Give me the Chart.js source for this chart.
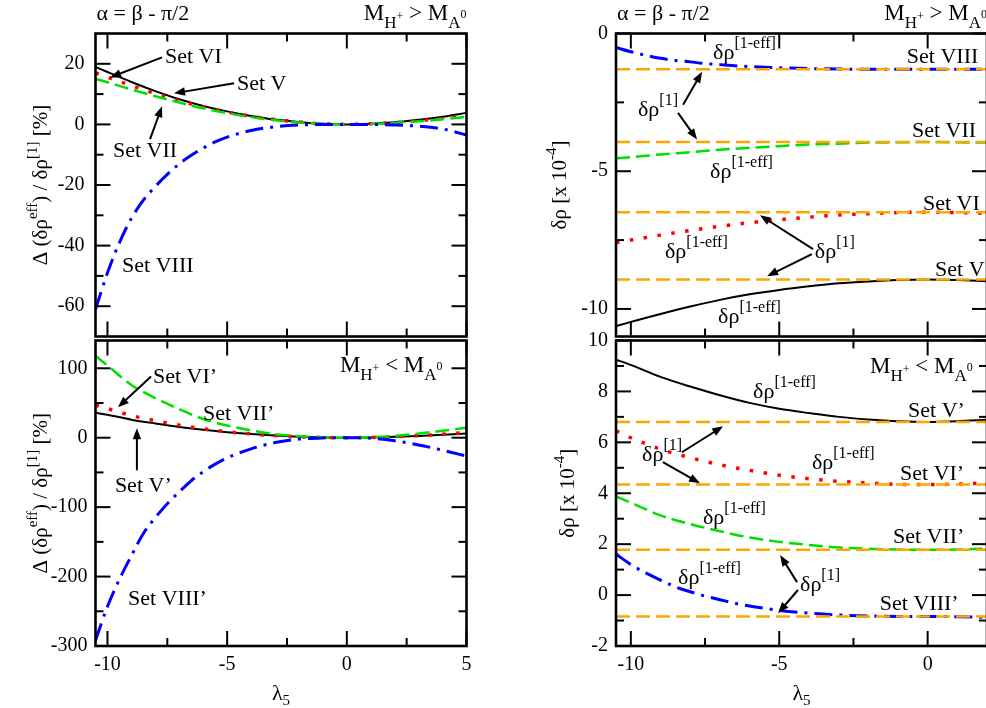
<!DOCTYPE html>
<html>
<head>
<meta charset="utf-8">
<script src="https://cdn.jsdelivr.net/npm/chart.js@4.4.1/dist/chart.umd.min.js"></script>
<style>
  html, body { margin: 0; padding: 0; background: #fff; overflow: hidden; }
  #wrap { position: relative; width: 986px; height: 708px; overflow: hidden; background: #fff; }
  #wrap canvas { position: absolute; left: 0; top: 0; }
</style>
</head>
<body>
<div id="wrap">
  <canvas id="pTL" width="1010" height="708"></canvas>
  <canvas id="pBL" width="1010" height="708"></canvas>
  <canvas id="pTR" width="1010" height="708"></canvas>
  <canvas id="pBR" width="1010" height="708"></canvas>
</div>
<script>
// ---------- lambda_5 grids ----------
const lamA = [-10.5, -10, -9, -8, -7, -6, -5, -4, -3, -2, -1, 0, 1, 2, 3, 4, 5];
const lamB = [-10.5, -10, -9.5, -9, -8.5, -8, -7.5, -7, -6.5, -6, -5.5, -5, -4, -3, -2, -1, 0, 1, 2, 3, 4, 5];
const lamC = [-10.5, -10, -9, -8, -7, -6, -5, -4, -3, -2, -1, 0, 1, 2];
const lamD = [-10.5, -10, -9.5, -9, -8.5, -8, -7.5, -7, -6.5, -6, -5.5, -5, -4, -3, -2, -1, 0, 1, 2];

// ---------- relative deviation [%], M_H+ > M_A0 ----------
const devV    = [19.0, 17.3, 14.0, 11.0, 8.3, 6.1, 4.3, 2.8, 1.6, 0.8, 0.2, 0, 0.2, 0.7, 1.5, 2.5, 3.8];
const devVI   = [17.0, 15.6, 12.8, 10.2, 7.8, 5.8, 4.1, 2.7, 1.6, 0.8, 0.2, 0, 0.2, 0.6, 1.2, 2.0, 3.0];
const devVII  = [15.0, 13.9, 11.5, 9.3, 7.2, 5.3, 3.7, 2.4, 1.4, 0.6, 0.15, 0, 0.15, 0.5, 1.0, 1.7, 2.5];
const devVIII = [-61, -49, -39, -31, -25, -20.5, -16.5, -13, -10.2, -7.8, -5.8, -4.2, -2.0, -0.8, -0.2, 0, 0, 0, -0.2, -0.6, -1.5, -3.5];

// ---------- relative deviation [%], M_H+ < M_A0 ----------
const devVp    = [36, 33, 26, 20.5, 15.5, 11.3, 8, 5.2, 3, 1.4, 0.4, 0, 0.4, 1.3, 2.6, 4.2, 6];
const devVIp   = [47, 42, 32, 24.5, 18, 12.8, 8.6, 5.4, 3.0, 1.3, 0.3, 0, 0.4, 1.5, 3, 5, 7.5];
const devVIIp  = [118, 104, 76, 57, 41, 27, 17.5, 10.5, 5, 2.2, 0.5, 0, 0.7, 2.8, 6, 10, 14.5];
const devVIIIp = [-292, -243, -204, -170, -138, -115, -95, -78, -62, -49, -38, -29, -16, -7, -2, -0.3, 0, -0.7, -4.5, -10.5, -18, -26.5];

// ---------- delta rho [x 1e-4], M_H+ > M_A0 ----------
const rho1Top = [-8.93, -6.49, -3.94, -1.30];           // Set V, VI, VII, VIII
const effV    = [-10.63, -10.47, -10.18, -9.91, -9.67, -9.47, -9.31, -9.18, -9.07, -9.00, -8.95, -8.93, -8.95, -8.99];
const effVI   = [-7.59, -7.50, -7.32, -7.15, -7.00, -6.87, -6.76, -6.67, -6.59, -6.54, -6.50, -6.49, -6.50, -6.53];
const effVII  = [-4.53, -4.49, -4.39, -4.31, -4.22, -4.15, -4.09, -4.03, -4.00, -3.96, -3.95, -3.94, -3.95, -3.96];
const effVIII = [-0.51, -0.66, -0.79, -0.90, -0.98, -1.03, -1.09, -1.13, -1.17, -1.20, -1.225, -1.245, -1.274, -1.29, -1.297, -1.30, -1.30, -1.30, -1.297];

// ---------- delta rho [x 1e-4], M_H+ < M_A0 ----------
const rho1Bot  = [6.80, 4.34, 1.78, -0.84];             // Set V', VI', VII', VIII'
const effVp    = [9.25, 9.04, 8.57, 8.19, 7.85, 7.55, 7.32, 7.15, 7.00, 6.90, 6.83, 6.80, 6.83, 6.89];
const effVIp   = [6.45, 6.18, 5.73, 5.40, 5.12, 4.90, 4.71, 4.57, 4.47, 4.40, 4.35, 4.34, 4.36, 4.41];
const effVIIp  = [3.88, 3.63, 3.13, 2.79, 2.51, 2.26, 2.09, 1.97, 1.87, 1.82, 1.79, 1.78, 1.79, 1.83];
const effVIIIp = [1.61, 1.20, 0.87, 0.59, 0.32, 0.13, -0.04, -0.18, -0.32, -0.43, -0.52, -0.60, -0.71, -0.78, -0.82, -0.84, -0.84, -0.85, -0.88];

// ---------- axis ranges and ticks ----------
const xRangeLeft  = [-10.5, 5];
const xRangeRight = [-10.5, 2];
const xMajorLeft  = [-10, -5, 0, 5];
const xMinorLeft  = [-7.5, -2.5, 2.5];
const xMajorRight = [-10, -5, 0];
const xMinorRight = [-7.5, -2.5];

const yRangeTL = [-70, 30],  yMajorTL = [20, 0, -20, -40, -60],            yMinorTL = [10, -10, -30, -50];
const yRangeBL = [-300, 140], yMajorBL = [100, 0, -100, -200, -300],       yMinorBL = [50, -50, -150, -250];
const yRangeTR = [-11, 0],   yMajorTR = [0, -5, -10],                      yMinorTR = [-2.5, -7.5];
const yRangeBR = [-2, 10],   yMajorBR = [10, 8, 6, 4, 2, 0, -2],          yMinorBR = [9, 7, 5, 3, 1, -1];

// ---------- drawing helpers ----------
const FONT = '"Liberation Serif", "Times New Roman", serif';
const COL = { V: '#000000', VI: '#ff0000', VII: '#00e000', VIII: '#0000ff', ref: '#ffa500' };

function rich(ctx, segs, x, y, align) {
  let w = 0;
  for (const s of segs) { ctx.font = s[1] + 'px ' + FONT; w += ctx.measureText(s[0]).width; }
  let cx = align === 'right' ? x - w : align === 'center' ? x - w / 2 : x;
  ctx.textAlign = 'left';
  ctx.textBaseline = 'alphabetic';
  for (const s of segs) {
    ctx.font = s[1] + 'px ' + FONT;
    ctx.fillText(s[0], cx, y + (s[2] || 0));
    cx += ctx.measureText(s[0]).width;
  }
}

function arrow(ctx, x1, y1, x2, y2) {
  const ang = Math.atan2(y2 - y1, x2 - x1), L = 11, W = 4.2;
  ctx.lineWidth = 2;
  ctx.beginPath();
  ctx.moveTo(x1, y1);
  ctx.lineTo(x2 - Math.cos(ang) * L * 0.8, y2 - Math.sin(ang) * L * 0.8);
  ctx.stroke();
  ctx.beginPath();
  ctx.moveTo(x2, y2);
  ctx.lineTo(x2 - L * Math.cos(ang) + W * Math.sin(ang), y2 - L * Math.sin(ang) - W * Math.cos(ang));
  ctx.lineTo(x2 - L * Math.cos(ang) - W * Math.sin(ang), y2 - L * Math.sin(ang) + W * Math.cos(ang));
  ctx.closePath();
  ctx.fill();
}

const setTxt = t => [[t, 22, 0]];
const EFF = [['δρ', 22, 0], ['[1-eff]', 16, -11]];
const ONE = [['δρ', 22, 0], ['[1]', 16, -11]];
const TITLE = [['α = β - π/2', 22, 0]];
const M_GT = [['M', 23, 0], ['H', 17, 8], ['+', 12, 0], [' > ', 23, 0], ['M', 23, 0], ['A', 17, 8], ['0', 12, -2]];
const M_LT = [['M', 23, 0], ['H', 17, 8], ['+', 12, 0], [' < ', 23, 0], ['M', 23, 0], ['A', 17, 8], ['0', 12, -2]];
const Y_DEV = [['Δ (δρ', 21, 0], ['eff', 15, -10], [') / δρ', 21, 0], ['[1]', 15, -10], [' [%]', 21, 0]];
const Y_RHO = [['δρ [x 10', 21, 0], ['-4', 15, -10], [']', 21, 0]];
const X_LAM = [['λ', 22, 0], ['5', 15, 5]];

// frame with inward ticks on all four sides, captions and arrows
function decor(spec) {
  return {
    id: 'decor',
    afterDraw(chart) {
      const { ctx, chartArea: a } = chart;
      const sx = chart.scales.x, sy = chart.scales.y;
      ctx.save();
      ctx.strokeStyle = '#000';
      ctx.fillStyle = '#000';
      ctx.lineCap = 'butt';
      const seg = (x1, y1, x2, y2) => { ctx.beginPath(); ctx.moveTo(x1, y1); ctx.lineTo(x2, y2); ctx.stroke(); };
      ctx.lineWidth = 2;
      [[spec.xMajor, 15], [spec.xMinor, 8]].forEach(([vals, len]) => vals.forEach(v => {
        const p = sx.getPixelForValue(v);
        seg(p, a.bottom, p, a.bottom - len);
        seg(p, a.top, p, a.top + len);
      }));
      [[spec.yMajor, 15], [spec.yMinor, 8]].forEach(([vals, len]) => vals.forEach(v => {
        const p = sy.getPixelForValue(v);
        seg(a.left, p, a.left + len, p);
        seg(a.right, p, a.right - len, p);
      }));
      ctx.lineWidth = 2.6;
      ctx.strokeRect(a.left, a.top, a.right - a.left, a.bottom - a.top);

      for (const t of spec.texts) rich(ctx, t[0], sx.getPixelForValue(t[1]), sy.getPixelForValue(t[2]), 'left');
      for (const r of spec.arrows) arrow(ctx, sx.getPixelForValue(r[0]), sy.getPixelForValue(r[1]), sx.getPixelForValue(r[2]), sy.getPixelForValue(r[3]));

      if (spec.title) rich(ctx, TITLE, a.left + 1, a.top - 13.5, 'left');
      if (spec.corner) rich(ctx, spec.corner, a.right, a.top - 13.5, 'right');

      ctx.save();
      ctx.translate(a.left - spec.yTitleGap, (a.top + a.bottom) / 2);
      ctx.rotate(-Math.PI / 2);
      rich(ctx, spec.yTitle, 0, 0, 'center');
      ctx.restore();

      if (spec.xTitle) rich(ctx, X_LAM, (a.left + a.right) / 2, a.bottom + 54, 'center');
      ctx.restore();
    }
  };
}

const pts = (xs, ys) => xs.map((x, i) => ({ x, y: ys[i] }));
const flat = (v, rng) => [{ x: rng[0], y: v }, { x: rng[1], y: v }];

const STYLE = {
  V:    { borderColor: COL.V, borderWidth: 2 },
  VI:   { borderColor: COL.VI, borderWidth: 3.5, borderDash: [3.5, 10.5] },
  VII:  { borderColor: COL.VII, borderWidth: 2.5, borderDash: [14, 6] },
  VIII: { borderColor: COL.VIII, borderWidth: 3, borderDash: [18, 7, 3, 7] },
  ref:  { borderColor: COL.ref, borderWidth: 2.5, borderDash: [14, 6] }
};
const ds = (data, st) => Object.assign({ data, pointRadius: 0, fill: false, cubicInterpolationMode: 'monotone', borderCapStyle: 'butt' }, STYLE[st]);

// the axis boxes get a fixed size so the plot area lands exactly on `area`
const Y_BOX = 80, X_BOX = 40;

function build(id, area, xr, yr, xMaj, yMaj, showX, yPad, datasets, spec) {
  const W = 1010, H = 708;
  const xBox = showX ? X_BOX : 0;
  const cfg = {
    type: 'line',
    data: { datasets },
    options: {
      responsive: false,
      animation: false,
      devicePixelRatio: 1,
      layout: { padding: { left: area[0] - Y_BOX, top: area[1], right: W - area[2], bottom: H - area[3] - xBox } },
      plugins: { legend: { display: false }, tooltip: { enabled: false } },
      scales: {
        x: {
          type: 'linear', min: xr[0], max: xr[1],
          afterBuildTicks: s => { s.ticks = xMaj.map(v => ({ value: v })); },
          afterFit: s => { s.height = xBox; },
          grid: { display: false, drawTicks: false },
          border: { display: false },
          ticks: { display: showX, autoSkip: false, maxRotation: 0, minRotation: 0, padding: 7, color: '#000',
                   font: { family: FONT, size: 20 }, callback: v => String(v) }
        },
        y: {
          type: 'linear', min: yr[0], max: yr[1],
          afterBuildTicks: s => { s.ticks = yMaj.map(v => ({ value: v })); },
          afterFit: s => { s.width = Y_BOX; },
          grid: { display: false, drawTicks: false },
          border: { display: false },
          ticks: { autoSkip: false, padding: yPad, color: '#000',
                   font: { family: FONT, size: 20 }, callback: v => String(v) }
        }
      }
    },
    plugins: [decor(spec)]
  };
  return new Chart(document.getElementById(id), cfg);
}

// ---------- top left: deviation, M_H+ > M_A0 ----------
build('pTL', [95.5, 33.5, 466.5, 336.5], xRangeLeft, yRangeTL, xMajorLeft, yMajorTL, false, 11, [
  ds(pts(lamB, devVIII), 'VIII'),
  ds(pts(lamA, devVII), 'VII'),
  ds(pts(lamA, devVI), 'VI'),
  ds(pts(lamA, devV), 'V')
], {
  xMajor: xMajorLeft, xMinor: xMinorLeft, yMajor: yMajorTL, yMinor: yMinorTL,
  title: true, corner: M_GT, yTitle: Y_DEV, yTitleGap: 48.5, xTitle: false,
  texts: [[setTxt('Set VI'), -7.6, 20.1], [setTxt('Set V'), -4.59, 11.25], [setTxt('Set VII'), -9.77, -10.8], [setTxt('Set VIII'), -9.39, -48.6]],
  arrows: [[-7.72, 22.1, -9.89, 15.5], [-4.71, 13.55, -7.22, 10.26], [-8.22, -4.87, -7.72, 5.99]]
});

// ---------- bottom left: deviation, M_H+ < M_A0 ----------
build('pBL', [95.5, 340.5, 466.5, 646], xRangeLeft, yRangeBL, xMajorLeft, yMajorBL, true, 8, [
  ds(pts(lamB, devVIIIp), 'VIII'),
  ds(pts(lamA, devVIIp), 'VII'),
  ds(pts(lamA, devVIp), 'VI'),
  ds(pts(lamA, devVp), 'V')
], {
  xMajor: xMajorLeft, xMinor: xMinorLeft, yMajor: yMajorBL, yMinor: yMinorBL,
  title: false, corner: null, yTitle: Y_DEV, yTitleGap: 48.5, xTitle: true,
  texts: [[setTxt('Set VI’'), -8.10, 78.2], [setTxt('Set VII’'), -6.01, 25.0], [setTxt('Set V’'), -9.69, -78.5],
          [setTxt('Set VIII’'), -9.14, -241], [M_LT, -0.29, 94]],
  arrows: [[-8.18, 88.2, -9.56, 43.7], [-8.77, -46.9, -8.77, 13.5]]
});

// ---------- top right: delta rho, M_H+ > M_A0 ----------
build('pTR', [616, 33.5, 987, 336.5], xRangeRight, yRangeTR, xMajorRight, yMajorTR, false, 8, [
  ds(flat(rho1Top[3], xRangeRight), 'ref'),
  ds(flat(rho1Top[2], xRangeRight), 'ref'),
  ds(flat(rho1Top[1], xRangeRight), 'ref'),
  ds(flat(rho1Top[0], xRangeRight), 'ref'),
  ds(pts(lamD, effVIII), 'VIII'),
  ds(pts(lamC, effVII), 'VII'),
  ds(pts(lamC, effVI), 'VI'),
  ds(pts(lamC, effV), 'V')
], {
  xMajor: xMajorRight, xMinor: xMinorRight, yMajor: yMajorTR, yMinor: yMinorTR,
  title: true, corner: M_GT, yTitle: Y_RHO, yTitleGap: 50, xTitle: false,
  texts: [[EFF, -7.23, -0.92], [setTxt('Set VIII'), -0.70, -1.07], [ONE, -9.76, -2.98], [setTxt('Set VII'), -0.53, -3.74],
          [EFF, -7.33, -5.23], [setTxt('Set VI'), -0.16, -6.39], [EFF, -8.85, -8.16], [ONE, -3.80, -8.16],
          [setTxt('Set V'), 0.25, -8.81], [EFF, -7.06, -10.51]],
  arrows: [[-8.24, -2.59, -7.60, -1.39], [-8.41, -2.88, -7.77, -3.85], [-3.86, -7.83, -5.65, -6.60], [-3.90, -8.01, -5.41, -8.81]]
});

// ---------- bottom right: delta rho, M_H+ < M_A0 ----------
build('pBR', [616, 340.5, 987, 646], xRangeRight, yRangeBR, xMajorRight, yMajorBR, true, 8, [
  ds(flat(rho1Bot[3], xRangeRight), 'ref'),
  ds(flat(rho1Bot[2], xRangeRight), 'ref'),
  ds(flat(rho1Bot[1], xRangeRight), 'ref'),
  ds(flat(rho1Bot[0], xRangeRight), 'ref'),
  ds(pts(lamD, effVIIIp), 'VIII'),
  ds(pts(lamC, effVIIp), 'VII'),
  ds(pts(lamC, effVIp), 'VI'),
  ds(pts(lamC, effVp), 'V')
], {
  xMajor: xMajorRight, xMinor: xMinorRight, yMajor: yMajorBR, yMinor: yMinorBR,
  title: false, corner: null, yTitle: Y_RHO, yTitleGap: 42, xTitle: true,
  texts: [[M_LT, -1.94, 8.71], [EFF, -5.88, 7.73], [setTxt('Set V’'), -0.66, 6.98], [ONE, -9.62, 5.25],
          [EFF, -3.90, 4.94], [setTxt('Set VI’'), -0.93, 4.51], [EFF, -7.57, 2.78], [setTxt('Set VII’'), -1.17, 2.04],
          [EFF, -8.41, 0.43], [ONE, -4.30, 0.16], [setTxt('Set VIII’'), -1.61, -0.59]],
  arrows: [[-8.28, 5.61, -6.89, 6.63], [-8.92, 5.22, -7.67, 4.39], [-4.40, 0.51, -4.97, 1.57], [-4.37, 0.20, -5.04, -0.71]]
});
</script>
</body>
</html>
